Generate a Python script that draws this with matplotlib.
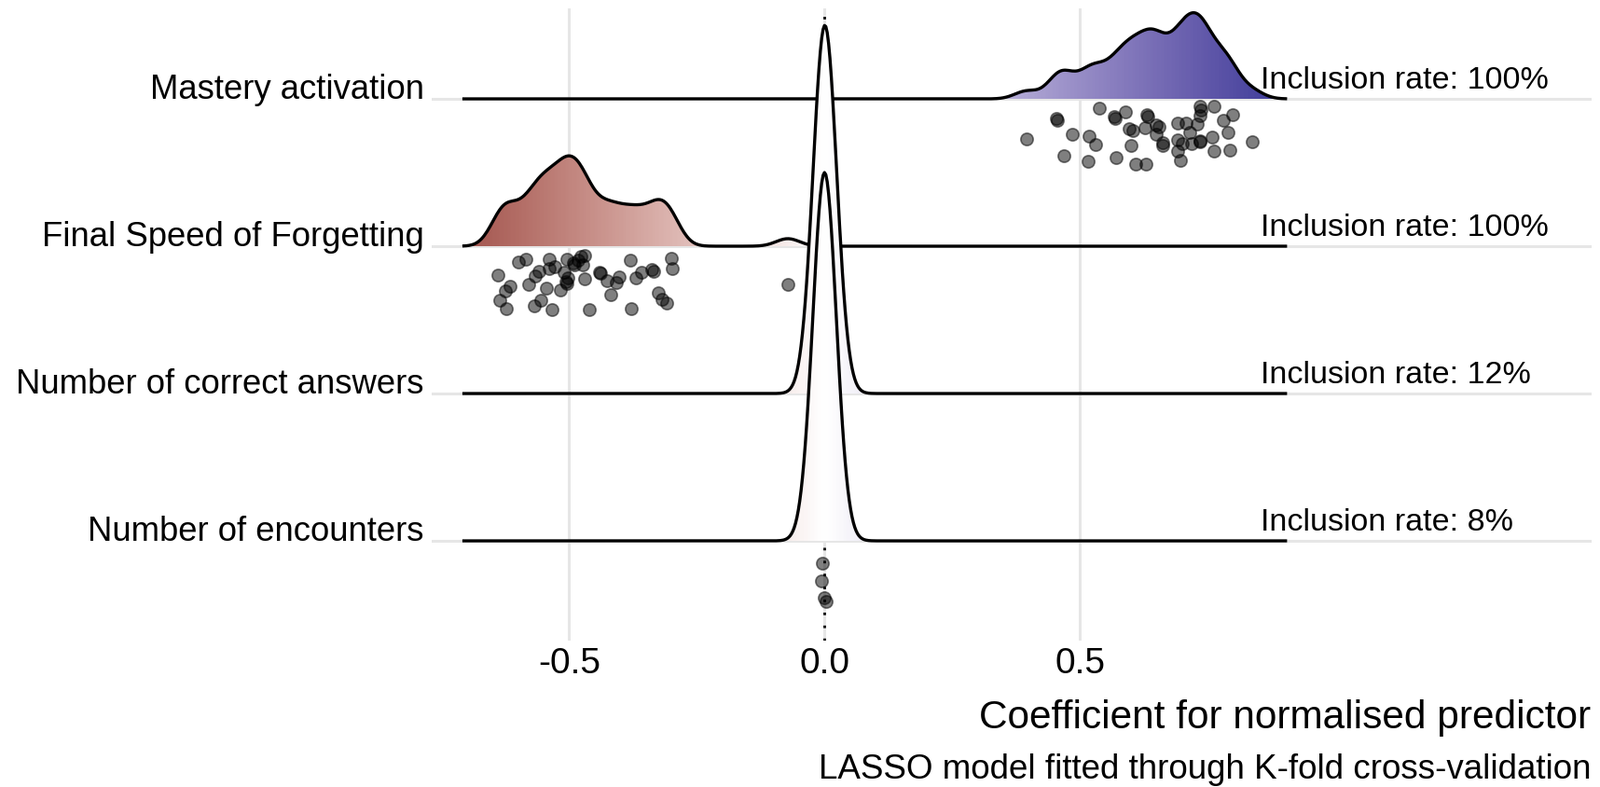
import numpy as np
import matplotlib
matplotlib.use('Agg')
import matplotlib.pyplot as plt
from matplotlib.colors import ListedColormap
from matplotlib.patches import Polygon

plt.rcParams['font.family'] = ['Liberation Sans', 'DejaVu Sans']

# --- data ---
predictors = ['Mastery activation', 'Final Speed of Forgetting',
              'Number of correct answers', 'Number of encounters']
inclusion = [100, 100, 12, 8]   # % of runs in which LASSO kept the predictor
n_runs = 50

# non-zero coefficients of the runs (x) and the vertical jitter of their points
mastery_x = [0.395, 0.454, 0.455, 0.469, 0.484, 0.515, 0.518, 0.530, 0.537, 0.566,
             0.568, 0.570, 0.588, 0.599, 0.596, 0.603, 0.609, 0.629, 0.627, 0.631,
             0.633, 0.649, 0.655, 0.649, 0.661, 0.662, 0.691, 0.690, 0.690, 0.697,
             0.707, 0.714, 0.700, 0.718, 0.729, 0.734, 0.735, 0.735, 0.736, 0.734,
             0.758, 0.762, 0.762, 0.781, 0.789, 0.793, 0.798, 0.836]
mastery_jit = [-0.270, -0.130, -0.143, -0.384, -0.239, -0.422, -0.253, -0.312, -0.063, -0.120,
               -0.135, -0.401, -0.089, -0.316, -0.203, -0.215, -0.443, -0.443, -0.196, -0.108,
               -0.120, -0.180, -0.190, -0.239, -0.296, -0.316, -0.163, -0.280, -0.354, -0.416,
               -0.163, -0.226, -0.302, -0.302, -0.169, -0.282, -0.288, -0.053, -0.074, -0.112,
               -0.259, -0.053, -0.354, -0.148, -0.226, -0.350, -0.109, -0.291]

speed_x = [-0.640, -0.624, -0.616, -0.636, -0.623, -0.599, -0.585, -0.580, -0.568, -0.556,
           -0.566, -0.559, -0.545, -0.539, -0.539, -0.528, -0.534, -0.517, -0.510, -0.505,
           -0.507, -0.503, -0.504, -0.492, -0.489, -0.483, -0.477, -0.470, -0.474, -0.469,
           -0.461, -0.441, -0.438, -0.426, -0.418, -0.408, -0.402, -0.380, -0.379, -0.369,
           -0.358, -0.338, -0.335, -0.326, -0.318, -0.309, -0.300, -0.298, -0.072]
speed_jit = [-0.196, -0.305, -0.274, -0.365, -0.422, -0.106, -0.089, -0.258, -0.405, -0.365,
             -0.204, -0.169, -0.285, -0.089, -0.154, -0.137, -0.432, -0.296, -0.179, -0.091,
             -0.241, -0.217, -0.253, -0.112, -0.127, -0.095, -0.070, -0.063, -0.127, -0.222,
             -0.432, -0.175, -0.185, -0.236, -0.327, -0.247, -0.211, -0.095, -0.422, -0.217,
             -0.175, -0.160, -0.168, -0.316, -0.359, -0.384, -0.084, -0.152, -0.259]

# correct answers: points sit behind the encounters spike, only their spread near 0 shows
correct_x = [0.001, 0.002, 0.003, 0.004, 0.005, 0.006]
correct_jit = [-0.10, -0.20, -0.30, -0.15, -0.35, -0.25]

encounters_x = [-0.005, -0.006, -0.001, 0.003]
encounters_jit = [-0.154, -0.274, -0.386, -0.411]

points = [(mastery_x, mastery_jit), (speed_x, speed_jit),
          (correct_x, correct_jit), (encounters_x, encounters_jit)]
rows = [3, 2, 1, 0]

bw = 0.023        # joint bandwidth
ridge_scale = 2.5  # tallest ridge in row units


# ggplot's gradient2 blends through white in CIELAB
M = np.array([[0.4124, 0.3576, 0.1805], [0.2126, 0.7152, 0.0722], [0.0193, 0.1192, 0.9505]])
WP = np.array([0.95047, 1.0, 1.08883])


def to_lab(hexcol):
    c = np.array(matplotlib.colors.to_rgb(hexcol))
    c = np.where(c > 0.04045, ((c + 0.055) / 1.055) ** 2.4, c / 12.92)
    xyz = M @ c / WP
    f = np.where(xyz > 0.008856, np.cbrt(xyz), 7.787 * xyz + 16 / 116)
    return np.array([116 * f[1] - 16, 500 * (f[0] - f[1]), 200 * (f[1] - f[2])])


def from_lab(lab):
    fy = (lab[:, 0] + 16) / 116
    f = np.stack([fy + lab[:, 1] / 500, fy, fy - lab[:, 2] / 200], -1)
    xyz = np.where(f > 0.2069, f ** 3, (f - 16 / 116) / 7.787) * WP
    c = xyz @ np.linalg.inv(M).T
    c = np.clip(c, 0, None)
    c = np.where(c > 0.0031308, 1.055 * c ** (1 / 2.4) - 0.055, 12.92 * c)
    return np.clip(c, 0, 1)


low, mid, high = to_lab('#832424'), to_lab('#FFFFFF'), to_lab('#3A3A98')
u = np.linspace(0, 1, 128)[:, None]
labs = np.vstack([low + (mid - low) * u, mid + (high - mid) * u])
cmap = ListedColormap(from_lab(labs))

# common density grid for all ridges
all_vals = np.concatenate([np.array(p[0]) for p in points] + [[0.0]])
xs = np.linspace(all_vals.min() - 3 * bw, all_vals.max() + 3 * bw, 600)


def kde(vals, n_zero):
    vals = np.concatenate([np.array(vals, float), np.zeros(n_zero)])
    d = (xs[:, None] - vals[None, :]) / bw
    return np.exp(-0.5 * d ** 2).sum(1) / (len(vals) * bw * np.sqrt(2 * np.pi))


dens = []
for (vx, _), rate in zip(points, inclusion):
    n_zero = int(round(n_runs * (1 - rate / 100))) if rate < 100 else 0
    dens.append(kde(vx, n_zero))
top = max(d.max() for d in dens)
dens = [d / top * ridge_scale for d in dens]

fill_vals = xs / np.abs(xs).max() / 2 + 0.5
grad = cmap(fill_vals)[None, :, :3]

fig = plt.figure(figsize=(17.16, 8.44), dpi=100)
ax = fig.add_axes([463 / 1716, 157 / 844, 1244 / 1716, 678 / 844])

for i, (row, d, (vx, vj)) in enumerate(zip(rows, dens, points)):
    z = 3 + i
    poly = Polygon(np.column_stack([np.r_[xs, xs[-1], xs[0]], np.r_[row + d, row, row]]),
                   closed=True, facecolor='none', edgecolor='none')
    ax.add_patch(poly)
    im = ax.imshow(grad, extent=[xs[0], xs[-1], row, row + d.max()], aspect='auto',
                   origin='lower', interpolation='bilinear', zorder=z)
    im.set_clip_path(poly)
    ax.plot(xs, row + d, color='black', lw=2.4, zorder=z + 0.1, solid_capstyle='butt')
    ax.scatter(vx, row + np.array(vj), s=92, color='black', alpha=0.5,
               linewidths=1.2, edgecolors='black', zorder=z + 0.2)

ax.axvline(0, color='black', lw=2.0, linestyle=(0, (1.0, 4.0)), zorder=2)

for row, rate in zip(rows, inclusion):
    ax.text(0.853, row + 0.072, f'Inclusion rate: {rate}%', fontsize=24.5,
            va='baseline', ha='left', zorder=10)

ax.set_xlim(-0.769, 1.501)
ax.set_ylim(-0.677, 3.614)
ax.set_xticks([-0.5, 0.0, 0.5])
ax.set_xticklabels(['-0.5', '0.0', '0.5'], fontsize=28)
ax.set_yticks(rows)
ax.set_yticklabels(predictors, fontsize=26.3)
for lbl in ax.get_yticklabels():
    lbl.set_verticalalignment('baseline')
ax.tick_params(length=0)
ax.tick_params(axis='y', pad=5.8)
ax.tick_params(axis='x', pad=5)
ax.set_axisbelow(True)
ax.grid(True, color='#e6e6e6', lw=2.2)
for s in ax.spines.values():
    s.set_visible(False)

fig.text(1706 / 1716, 63 / 844, 'Coefficient for normalised predictor', fontsize=30.5,
         ha='right', va='baseline')
fig.text(1706 / 1716, 9 / 844, 'LASSO model fitted through K-fold cross-validation',
         fontsize=26.5, ha='right', va='baseline')

fig.savefig('out.png', dpi=100)
